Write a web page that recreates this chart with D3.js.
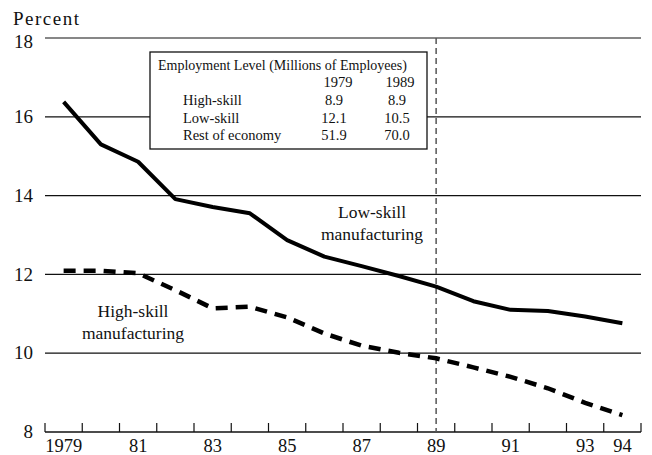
<!DOCTYPE html>
<html>
  <head>
    <meta charset="utf-8">
    <style>
      body { margin: 0; background: #fff; }
    </style>
    <script src="https://d3js.org/d3.v7.min.js"></script>
  </head>
  <body>
    <svg class="chart"></svg>
    <script>
      // data
      const years = [1979, 1980, 1981, 1982, 1983, 1984, 1985, 1986,
                     1987, 1988, 1989, 1990, 1991, 1992, 1993, 1994];
      const lowSkill = [16.38, 15.30, 14.86, 13.91, 13.71, 13.55, 12.87, 12.45,
                        12.21, 11.96, 11.69, 11.32, 11.10, 11.07, 10.93, 10.76];
      const highSkill = [12.09, 12.09, 12.03, 11.60, 11.14, 11.18, 10.91, 10.50,
                         10.19, 10.01, 9.87, 9.64, 9.40, 9.11, 8.74, 8.43];
      const tickYears = [1979, 1981, 1983, 1985, 1987, 1989, 1991, 1993, 1994];
      const tickLabels = ["1979", "81", "83", "85", "87", "89", "91", "93", "94"];
      const yTicks = [8, 10, 12, 14, 16, 18];
      const markYear = 1989;

      const tableTitle = "Employment Level (Millions of Employees)";
      const tableCols = ["1979", "1989"];
      const tableRows = ["High-skill", "Low-skill", "Rest of economy"];
      const emp1979 = ["8.9", "12.1", "51.9"];
      const emp1989 = ["8.9", "10.5", "70.0"];

      const width = 652, height = 455;
      const svg = d3.select(".chart")
        .attr("width", width).attr("height", height)
        .style("font-family", '"Liberation Serif", "Times New Roman", serif');

      const x = d3.scaleBand().domain(years).range([45, 641]);
      const y = d3.scaleLinear().domain([8, 18]).range([432, 38]);
      const cx = d => x(d) + x.bandwidth() / 2;

      // gridlines
      svg.append("g").selectAll("line").data(yTicks.filter(d => d > 8)).enter()
        .append("line")
        .attr("x1", 45).attr("x2", 641)
        .attr("y1", d => y(d)).attr("y2", d => y(d))
        .attr("stroke", "#111").attr("stroke-width", 1.2);

      // y labels (the top one sits a little low, as in the original)
      svg.append("g").selectAll("text").data(yTicks).enter()
        .append("text")
        .attr("x", 33).attr("y", d => d === 18 ? y(d) + 4 : y(d))
        .attr("dy", "0.33em")
        .attr("text-anchor", "end")
        .attr("font-size", 19)
        .attr("fill", "#111")
        .text(d => d);

      svg.append("text")
        .attr("x", 13).attr("y", 25)
        .attr("font-size", 19)
        .attr("letter-spacing", 1.5)
        .attr("fill", "#111")
        .text("Percent");

      // x axis line with ticks pointing up at band edges
      const xg = svg.append("g");
      xg.append("line")
        .attr("x1", 45).attr("x2", 641)
        .attr("y1", y(8)).attr("y2", y(8))
        .attr("stroke", "#111").attr("stroke-width", 1.5);
      const edges = years.map(d => x(d)).concat([x.range()[1]]);
      xg.selectAll(".tick").data(edges).enter()
        .append("line")
        .attr("class", "tick")
        .attr("x1", d => d).attr("x2", d => d)
        .attr("y1", y(8)).attr("y2", y(8) - 9)
        .attr("stroke", "#111").attr("stroke-width", 1.2);
      xg.selectAll("text").data(tickYears).enter()
        .append("text")
        .attr("x", d => cx(d))
        .attr("y", 452)
        .attr("text-anchor", "middle")
        .attr("font-size", 18.5)
        .attr("fill", "#111")
        .text((d, i) => tickLabels[i]);

      // 1989 marker
      svg.append("line")
        .attr("x1", cx(markYear)).attr("x2", cx(markYear))
        .attr("y1", y(18)).attr("y2", y(8))
        .attr("stroke", "#555").attr("stroke-width", 1.5)
        .attr("stroke-dasharray", "6,4");

      // series
      const line = d3.line().x(d => cx(d[0])).y(d => y(d[1]));
      svg.append("path")
        .datum(years.map((d, i) => [d, lowSkill[i]]))
        .attr("d", line)
        .attr("fill", "none").attr("stroke", "#000")
        .attr("stroke-width", 4).attr("stroke-linejoin", "round");
      svg.append("path")
        .datum(years.map((d, i) => [d, highSkill[i]]))
        .attr("d", line)
        .attr("fill", "none").attr("stroke", "#000")
        .attr("stroke-width", 4.5).attr("stroke-dasharray", "12,8");

      // series labels
      const lab1 = svg.append("text").attr("font-size", 17.5).attr("text-anchor", "middle").attr("fill", "#111");
      lab1.append("tspan").attr("x", 372).attr("y", 218).text("Low-skill");
      lab1.append("tspan").attr("x", 372).attr("y", 240).text("manufacturing");
      const lab2 = svg.append("text").attr("font-size", 17.5).attr("text-anchor", "middle").attr("fill", "#111");
      lab2.append("tspan").attr("x", 133).attr("y", 317).text("High-skill");
      lab2.append("tspan").attr("x", 133).attr("y", 339).text("manufacturing");

      // employment table
      const tg = svg.append("g").attr("fill", "#111");
      tg.append("rect")
        .attr("x", 150).attr("y", 52).attr("width", 277).attr("height", 97)
        .attr("fill", "#fff").attr("stroke", "#111").attr("stroke-width", 1.3);
      tg.append("text").attr("x", 158).attr("y", 70).attr("font-size", 14).text(tableTitle);
      tg.selectAll(".col").data(tableCols).enter()
        .append("text").attr("class", "col")
        .attr("x", (d, i) => i === 0 ? 338 : 400).attr("y", 87)
        .attr("text-anchor", "middle").attr("font-size", 14.5)
        .text(d => d);
      tableRows.forEach((r, i) => {
        const ry = 105 + i * 17.5;
        tg.append("text").attr("x", 183).attr("y", ry).attr("font-size", 14.5).text(r);
        tg.append("text").attr("x", 334).attr("y", ry).attr("text-anchor", "middle")
          .attr("font-size", 14.5).text(emp1979[i]);
        tg.append("text").attr("x", 397).attr("y", ry).attr("text-anchor", "middle")
          .attr("font-size", 14.5).text(emp1989[i]);
      });
    </script>
  </body>
</html>
